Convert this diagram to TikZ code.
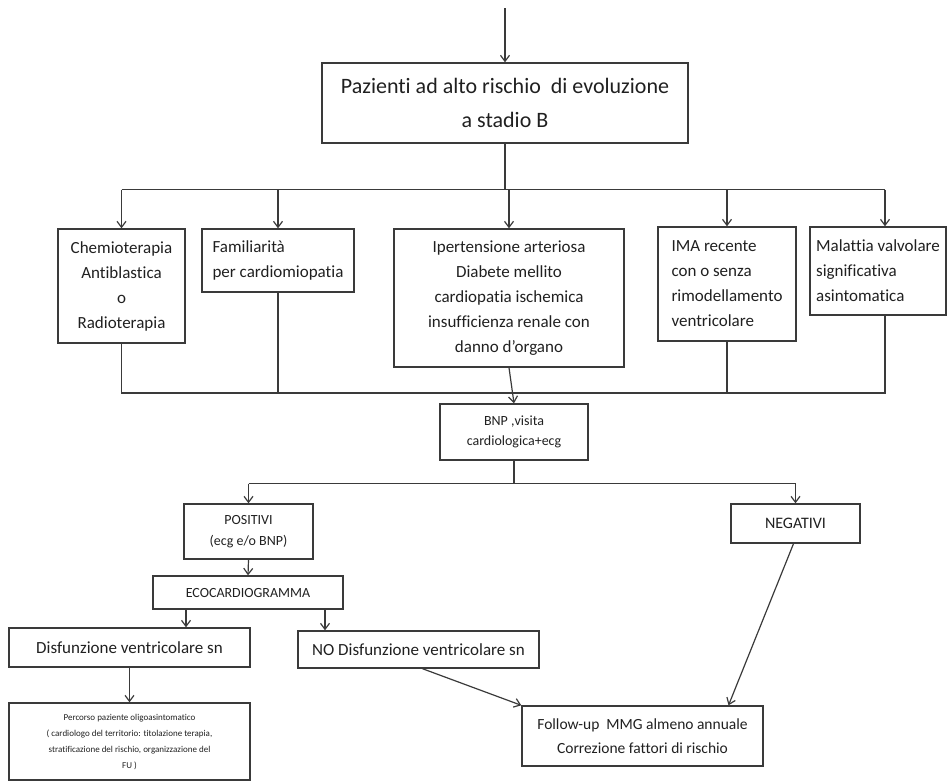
\documentclass[tikz,border=0pt]{standalone}
\usepackage{fontspec}
\setmainfont{Carlito}[Ligatures={TeX,NoCommon}]
\usepackage{tikz}
\usetikzlibrary{arrows.meta, positioning, calc}

\definecolor{linegray}{HTML}{3A3A3A}
\definecolor{textgray}{HTML}{202020}
\newcommand{\fsz}[2]{\fontsize{#1}{#2}\selectfont}

\tikzset{
    box/.style={draw=linegray, line width=1.4pt, inner sep=0pt, align=center, text=textgray},
    wire/.style={draw=linegray, line width=1.2pt},
    arr/.style={wire, -{Straight Barb[length=6pt,width=9pt,line width=1.2pt]}}
}

\begin{document}
\begin{tikzpicture}[x=1pt, y=-1pt]
    \useasboundingbox (0,0) rectangle (949,782);

    % entry and main box
    \coordinate (start) at (505,8);
    \node[box, minimum width=366pt, minimum height=80pt, font=\fsz{22}{34}] (top) at (505,103)
        {Pazienti ad alto rischio\ \ di evoluzione\\a stadio B};

    % risk factor boxes
    \node[box, minimum width=127pt, minimum height=114pt, font=\fsz{17}{25}] (chemio) at (121.5,286)
        {Chemioterapia\\Antiblastica\\o\\Radioterapia};
    \node[box, minimum width=152pt, minimum height=63pt, align=left, font=\fsz{17}{25}] (fam) at (278,260.5)
        {Familiarità\\per cardiomiopatia};
    \node[box, minimum width=230pt, minimum height=138pt, font=\fsz{17}{25}] (iper) at (509,298)
        {Ipertensione arteriosa\\Diabete mellito\\cardiopatia ischemica\\insufficienza renale con\\danno d’organo};
    \node[box, minimum width=138pt, minimum height=114pt, align=left, font=\fsz{17}{25}] (ima) at (727,284)
        {IMA recente\\con o senza\\rimodellamento\\ventricolare};
    \node[box, minimum width=136pt, minimum height=88pt, align=left, font=\fsz{17}{25}] (mal) at (878,271)
        {Malattia valvolare\\significativa\\asintomatica};

    % tests
    \node[box, minimum width=148pt, minimum height=56pt, font=\fsz{14}{20}] (bnp) at (514,432)
        {BNP ,visita\\cardiologica+ecg};
    \node[box, minimum width=129pt, minimum height=55pt, font=\fsz{14}{21}] (pos) at (248.5,531.5)
        {POSITIVI\\(ecg e/o BNP)};
    \node[box, minimum width=129pt, minimum height=39pt, font=\fsz{16}{20}] (neg) at (795.5,523.5)
        {NEGATIVI};
    \node[box, minimum width=190pt, minimum height=33pt, font=\fsz{14}{18}] (eco) at (248,592.5)
        {ECOCARDIOGRAMMA};

    % outcomes
    \node[box, minimum width=241pt, minimum height=39pt, font=\fsz{17}{20}] (dis) at (129.5,647.5)
        {Disfunzione ventricolare sn};
    \node[box, minimum width=241pt, minimum height=37pt, font=\fsz{17}{20}] (nodis) at (418.5,649.5)
        {NO Disfunzione ventricolare sn};
    \node[box, minimum width=241pt, minimum height=77pt, font=\fsz{9}{16}] (perc) at (129.5,741.5)
        {Percorso paziente oligoasintomatico\\( cardiologo del territorio: titolazione terapia,\\stratificazione del rischio, organizzazione del\\FU )};
    \node[box, minimum width=241pt, minimum height=60pt, font=\fsz{15.5}{24}] (fu) at (642.5,736)
        {Follow-up\ \ MMG almeno annuale\\Correzione fattori di rischio};

    % upper bus
    \draw[arr] (start) -- (top.north);
    \draw[wire] (top.south) -- ++(0,46) coordinate (bus);
    \draw[wire] (chemio.north |- bus) -- ([xshift=7pt]mal.north |- bus);
    \foreach \n in {chemio, fam, iper, ima}
        \draw[arr] (\n.north |- bus) -- (\n.north);
    \draw[arr] ([xshift=7pt]mal.north |- bus) -- ([xshift=7pt]mal.north);

    % lower bus
    \coordinate (bus2) at (0,393);
    \draw[wire] (chemio.south) -- (chemio.south |- bus2) -- ([xshift=7pt]mal.south |- bus2) -- ([xshift=7pt]mal.south);
    \foreach \n in {fam, ima}
        \draw[wire] (\n.south) -- (\n.south |- bus2);
    \draw[arr] (iper.south) -- (bnp.north);

    % split positive / negative
    \draw[wire] (bnp.south) -- ++(0,23) coordinate (bus3);
    \draw[wire] (pos.north |- bus3) -- (neg.north |- bus3);
    \draw[arr] (pos.north |- bus3) -- (pos.north);
    \draw[arr] (neg.north |- bus3) -- (neg.north);
    \draw[arr] (pos.south) -- (eco.north);
    \draw[arr] ([xshift=-62pt]eco.south) -- ([xshift=-62pt]eco.south |- dis.north);
    \draw[arr] ([xshift=77pt]eco.south) -- ([xshift=77pt]eco.south |- nodis.north);
    \draw[arr] (dis.south) -- (perc.north);
    \draw[arr] ([xshift=4pt]nodis.south) -- (fu.north west);
    \draw[arr] ([xshift=-2pt]neg.south) -- ([xshift=86pt]fu.north);

\end{tikzpicture}
\end{document}
